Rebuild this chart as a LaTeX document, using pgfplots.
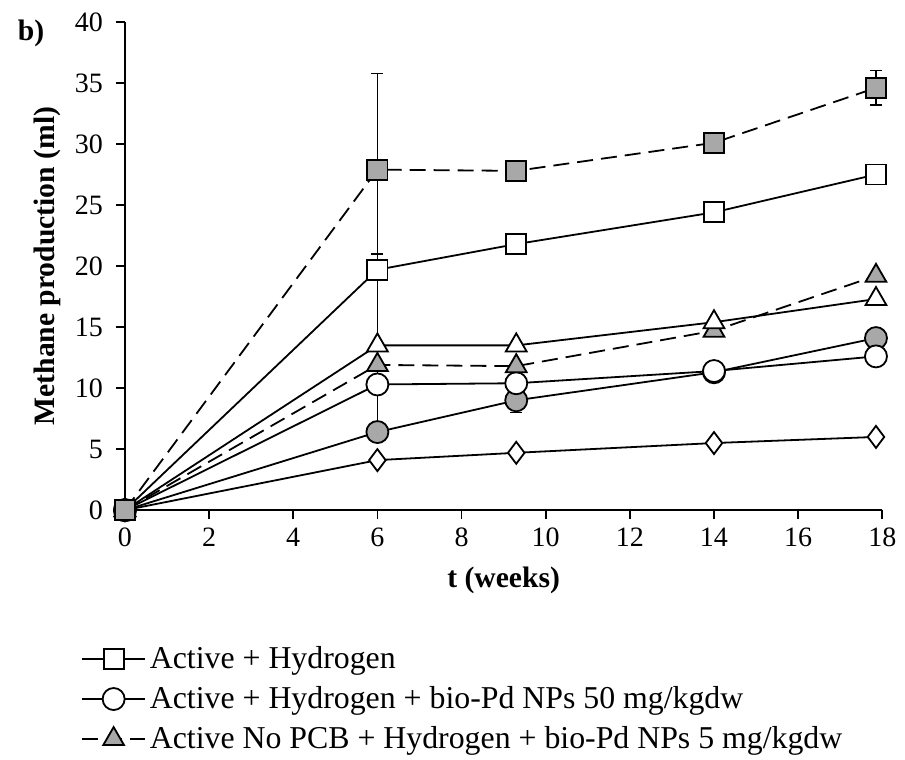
\documentclass[border=0pt]{standalone}
\usepackage{fontspec}
\setmainfont{Liberation Serif}
\usepackage{pgfplots}
\pgfplotsset{compat=1.18}
\definecolor{markgrey}{gray}{0.66}
\begin{document}
\begin{tikzpicture}
\begin{axis}[
  width=378.5pt, height=244pt, scale only axis,
  xmin=0, xmax=18, ymin=0, ymax=40,
  xtick={0,2,...,18}, ytick={0,5,...,40},
  axis lines=left, axis line style={-, line width=0.9pt},
  tick align=outside, major tick length=4.5pt,
  tick style={line width=0.9pt, black},
  clip=false,
  font=\fontsize{14}{16}\selectfont,
  /pgf/number format/assume math mode=true,
  yticklabel style={xshift=-3pt},
  xticklabel style={yshift=-1pt},
  xlabel={\textbf{t (weeks)}},
  ylabel={\textbf{Methane production (ml)}},
  label style={font=\fontsize{14.8}{17}\selectfont},
  xlabel style={yshift=-3pt},
  every axis plot/.append style={line width=0.9pt, black},
  legend style={draw=none, fill=none, at={(-0.058,-0.27)}, anchor=north west,
    row sep=3.5pt, inner sep=0pt, font=\fontsize{15.9}{18.5}\selectfont},
  legend cell align=left,
  legend image code/.code={%
    \draw[mark repeat=2, mark phase=2] plot coordinates {(0cm,0cm) (0.55cm,0cm) (1.1cm,0cm)};},
  error bars/error bar style={line width=0.7pt, solid},
  error bars/error mark options={rotate=90, mark size=3pt, line width=0.7pt},
]
% diamond
\addplot[mark=diamond*, mark options={fill=white, mark size=5.5pt, solid}, forget plot]
  coordinates {(0,0) (6,4.1) (9.3,4.7) (14,5.5) (17.85,6.0)};
% grey circle
\addplot[mark=*, mark options={fill=markgrey, mark size=5.5pt, solid}, forget plot,
  error bars/.cd, y dir=both, y explicit]
  coordinates {(0,0) (6,6.4) (9.3,9.0) +- (0,1.0) (14,11.3) (17.85,14.1)};
% open square
\addplot[mark=square*, mark options={fill=white, mark size=5pt, solid},
  error bars/.cd, y dir=both, y explicit]
  coordinates {(0,0) (6,19.7) (9.3,21.8) +- (0,0.8) (14,24.4) (17.85,27.5)};
\addlegendentry{Active + Hydrogen}
% open circle
\addplot[mark=*, mark options={fill=white, mark size=5.5pt, solid}]
  coordinates {(0,0) (6,10.3) (9.3,10.4) (14,11.4) (17.85,12.6)};
\addlegendentry{Active + Hydrogen + bio-Pd NPs 50 mg/kgdw}
% grey triangle dashed
\addplot[dashed, dash pattern=on 8pt off 4pt, mark=triangle*, mark options={fill=markgrey, mark size=6pt, solid}]
  coordinates {(0,0) (6,11.9) (9.3,11.8) (14,14.7) (17.85,19.2)};
\addlegendentry{Active No PCB + Hydrogen + bio-Pd NPs 5 mg/kgdw}
% open triangle
\addplot[mark=triangle*, mark options={fill=white, mark size=6pt, solid}, forget plot,
  error bars/.cd, y dir=both, y explicit]
  coordinates {(0,0) (6,13.5) +- (0,7.5) (9.3,13.5) (14,15.4) (17.85,17.3)};
% grey square dashed
\addplot[dashed, dash pattern=on 8pt off 4pt, mark=square*, mark options={fill=markgrey, mark size=5pt, solid}, forget plot,
  error bars/.cd, y dir=both, y explicit]
  coordinates {(0,0) (6,27.9) +- (0,7.9) (9.3,27.8) (14,30.1) +- (0,0.6) (17.85,34.6) +- (0,1.4)};
\node[font=\fontsize{14.8}{17}\selectfont\bfseries] at (axis description cs:-0.124,0.977) {b)};
\path (axis description cs:-0.165,1.045) (axis description cs:1.03,-0.51);
\end{axis}
\end{tikzpicture}
\end{document}
